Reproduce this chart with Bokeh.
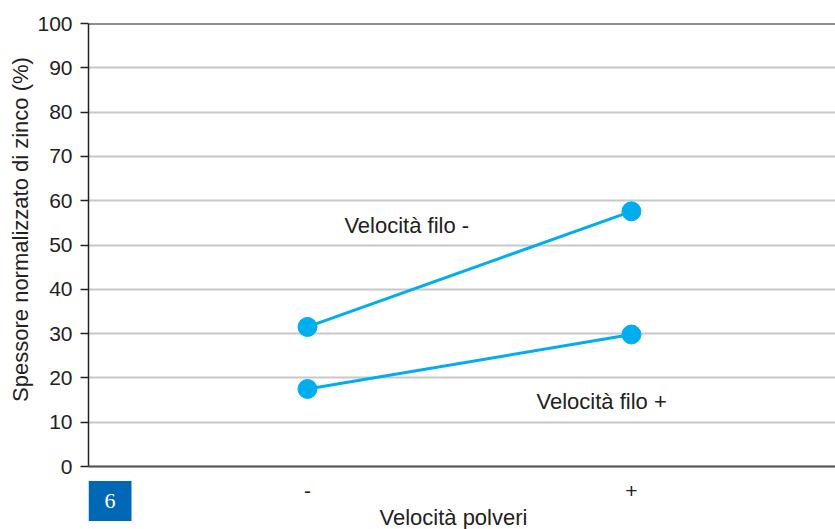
import math
from bokeh.plotting import figure
from bokeh.layouts import row
from bokeh.models import FixedTicker, Span, Label
from bokeh.embed import file_html
from bokeh.resources import INLINE

# ---- data ----
categories = ["-", "+"]
series_names = ["Velocità filo -", "Velocità filo +"]
filo_minus = [31.5, 57.6]
filo_plus = [17.5, 29.8]
y_ticks = [0, 10, 20, 30, 40, 50, 60, 70, 80, 90, 100]
x_title = "Velocità polveri"
y_title = "Spessore normalizzato di zinco (%)"
figure_number = "6"

FONT = "Liberation Sans"
CYAN = "#00aeef"
LEFT_W = 34

xs = list(range(len(categories)))

# --- narrow strip carrying the y-axis title ---
t = figure(width=LEFT_W, height=529, output_backend="svg", toolbar_location=None,
           x_axis_type=None, y_axis_type=None, x_range=(0, 1), y_range=(0, 1),
           min_border_left=0, min_border_right=0, min_border_top=0, min_border_bottom=0)
t.outline_line_color = None
t.xgrid.visible = False
t.ygrid.visible = False
t.add_layout(Label(x=20, y=300, x_units="screen", y_units="screen", text=y_title,
                   text_font=FONT, text_font_size="22px", text_color="#222222",
                   text_align="center", text_baseline="middle", angle=math.pi / 2))

# --- main chart: frame runs to the bottom of the page; the x axis sits at y = 0 ---
p = figure(width=835 - LEFT_W, height=529, output_backend="svg", toolbar_location=None,
           x_range=(-0.676, 1.630), y_range=(-14.22, 100),
           min_border_left=88 - LEFT_W, min_border_right=0, min_border_top=23, min_border_bottom=0)
p.outline_line_color = None
p.background_fill_color = "white"

for ys in (filo_minus, filo_plus):
    p.line(xs, ys, line_color=CYAN, line_width=3)
    p.scatter(xs, ys, size=19, fill_color=CYAN, line_color=CYAN)

p.xgrid.visible = False
p.ygrid.grid_line_color = "#c8c8c8"
p.ygrid.grid_line_width = 2
p.ygrid.ticker = FixedTicker(ticks=y_ticks)

# y axis
p.yaxis.ticker = FixedTicker(ticks=y_ticks)
p.yaxis.bounds = (0, 100)
p.yaxis.axis_line_color = "#222222"
p.yaxis.axis_line_width = 1.5
p.yaxis.major_tick_line_color = "#222222"
p.yaxis.major_tick_line_width = 1.5
p.yaxis.major_tick_out = 8
p.yaxis.major_tick_in = 0
p.yaxis.minor_tick_line_color = None
p.yaxis.major_label_text_font = FONT
p.yaxis.major_label_text_font_size = "21px"
p.yaxis.major_label_text_color = "#222222"
p.yaxis.major_label_standoff = 8

# x axis at y = 0
p.xaxis.fixed_location = 0
p.xaxis.ticker = FixedTicker(ticks=xs)
p.xaxis.major_label_overrides = {i: c for i, c in zip(xs, categories)}
p.xaxis.axis_line_color = "#555555"
p.xaxis.axis_line_width = 2
p.xaxis.major_tick_line_color = None
p.xaxis.major_tick_out = 0
p.xaxis.minor_tick_line_color = None
p.xaxis.major_label_text_font = FONT
p.xaxis.major_label_text_font_size = "21px"
p.xaxis.major_label_text_color = "#222222"
p.xaxis.major_label_standoff = 17

# x title
p.add_layout(Label(x=0.4506, y=-11.5, text=x_title, text_font=FONT,
                   text_font_size="22px", text_color="#222222",
                   text_align="center", text_baseline="middle"))

# top line
p.add_layout(Span(location=100, dimension="width", line_color="#222222", line_width=2))

# series labels
p.add_layout(Label(x=0.114, y=54.4, text=series_names[0], text_font=FONT,
                   text_font_size="22px", text_color="#222222", text_baseline="middle"))
p.add_layout(Label(x=0.707, y=14.7, text=series_names[1], text_font=FONT,
                   text_font_size="22px", text_color="#222222", text_baseline="middle"))

# figure number box
p.add_layout(Label(x=21.5, y=28.5, x_units="screen", y_units="screen", text=figure_number,
                   text_font="Liberation Serif", text_font_size="22px",
                   text_color="white", text_align="center", text_baseline="middle",
                   background_fill_color="#0068b4", padding=(16, 13)))

layout = row(t, p, spacing=0)
open("out.html", "w").write(file_html(layout, INLINE))
